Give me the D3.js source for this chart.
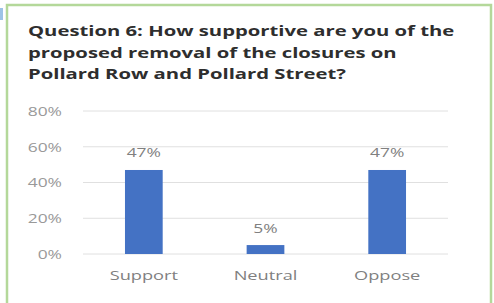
<!DOCTYPE html>
<html><head><meta charset="utf-8">
<script src="https://cdn.jsdelivr.net/npm/d3@7"></script>
<style>html,body{margin:0;padding:0;background:#fff;}svg{display:block;}</style>
</head><body>
<svg id="c" width="494" height="303"></svg>
<script>
const titleLines = ["Question 6: How supportive are you of the", "proposed removal of the closures on", "Pollard Row and Pollard Street?"];
const categories = ["Support", "Neutral", "Oppose"];
const values = [0.47, 0.05, 0.47];
const valueLabels = ["47%", "5%", "47%"];
const yTicks = [0, 0.2, 0.4, 0.6, 0.8];

const svg = d3.select("#c");
const font = "'Open Sans', 'DejaVu Sans', sans-serif";
function stretch(sel, f) {
  sel.each(function(){
    const w = this.getComputedTextLength();
    d3.select(this).attr("textLength", w*f).attr("lengthAdjust","spacingAndGlyphs");
  });
}

// small blue corner mark
svg.append("rect").attr("x",0).attr("y",8).attr("width",3).attr("height",12).attr("fill","#9dc3e6");
// frame
svg.append("rect").attr("x",7).attr("y",5).attr("width",484).attr("height",305)
  .attr("fill","#fff").attr("stroke","#b4d89a").attr("stroke-width",2.5);

const title = svg.append("g").selectAll("text").data(titleLines).join("text")
  .attr("x",28).attr("y",(d,i)=>36+i*21.5)
  .attr("font-family",font).attr("font-weight","bold").attr("font-size",15)
  .attr("fill","#2e2e2e").text(d=>d);
stretch(title, 1.35);

const x = d3.scaleBand().domain(categories).range([83,448]).paddingInner(0.69).paddingOuter(0.345);
const y = d3.scaleLinear().domain([0,0.8]).range([254,111]);

svg.append("g").selectAll("line").data(yTicks).join("line")
  .attr("x1",83).attr("x2",448).attr("y1",d=>y(d)).attr("y2",d=>y(d))
  .attr("stroke","#e0e0e0").attr("stroke-width",1);

const yAxis = svg.append("g").attr("transform","translate(83,0)")
  .call(d3.axisLeft(y).tickValues(yTicks).tickFormat(d3.format(".0%")).tickSize(0).tickPadding(21));
yAxis.select(".domain").remove();
yAxis.selectAll("text").attr("font-family",font).attr("font-size",12).attr("fill","#999").attr("dy","0.37em");
stretch(yAxis.selectAll("text"), 1.45);

svg.append("g").selectAll("rect").data(values).join("rect")
  .attr("x",(d,i)=>x(categories[i])).attr("width",x.bandwidth())
  .attr("y",d=>y(d)).attr("height",d=>y(0)-y(d)).attr("fill","#4472c4");

const vl = svg.append("g").selectAll("text").data(values).join("text")
  .attr("x",(d,i)=>x(categories[i])+x.bandwidth()/2).attr("y",d=>y(d)-12.5)
  .attr("text-anchor","middle").attr("font-family",font).attr("font-size",12).attr("fill","#808080")
  .text((d,i)=>valueLabels[i]);
stretch(vl, 1.45);

const xAxis = svg.append("g").attr("transform","translate(0,254)")
  .call(d3.axisBottom(x).tickSize(0).tickPadding(0));
xAxis.select(".domain").remove();
xAxis.selectAll("text").attr("dy",null).attr("y",26).attr("font-family",font).attr("font-size",13).attr("fill","#808080");
stretch(xAxis.selectAll("text"), 1.4);
</script>
</body></html>
